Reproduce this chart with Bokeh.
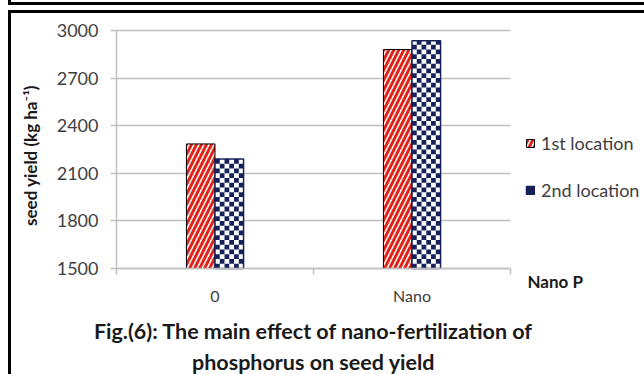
import math
from bokeh.plotting import figure
from bokeh.models import FixedTicker, Legend, LegendItem, Label
from bokeh.embed import file_html
from bokeh.resources import INLINE

# ---- data -------------------------------------------------------------
categories = ["0", "Nano"]
series_names = ["1st location", "2nd location"]
loc1_yield = [2285, 2880]
loc2_yield = [2190, 2935]
y_ticks = [1500, 1800, 2100, 2400, 2700, 3000]
x_title = "Nano P"
y_title = "seed yield (kg ha\u207b\u00b9)"
caption = ["Fig.(6): The main effect of nano-fertilization of",
           "phosphorus on seed yield"]

# ---- styling ----------------------------------------------------------
RED = "#e2231a"
NAVY = "#16215a"
GRID = "#bfbfbf"
TEXT = "#404040"
DARK = "#1a1a1a"
FONT = "Lato"

y_min, y_max = y_ticks[0], y_ticks[-1]
n = len(categories)
bar_w = 0.145
cell_cols = 6          # checker squares across one bar
cell_h = 30            # checker square height in data units

# The plotting frame fills the whole canvas; both axes sit at fixed
# locations and are bounded, so titles, legend and caption are placed in
# data coordinates around the bar area.
line = "linear-gradient(#000,#000)"
page_lines = ", ".join([
    f"{line} 8px 2px / 100% 3px no-repeat",
    f"{line} 8px 0px / 3px 5px no-repeat",
    f"{line} 8px 10px / 100% 3px no-repeat",
    f"{line} 8px 10px / 3px 100% no-repeat",
    "#ffffff",
])

p = figure(width=644, height=374, x_range=(-0.5888, 2.6802),
           y_range=(831.9, 3189.1),
           output_backend="svg", toolbar_location=None,
           min_border=0, styles={"background": page_lines})
p.outline_line_color = None
p.background_fill_color = None
p.border_fill_color = None

x1 = [i + 0.5 - bar_w / 2 for i in range(n)]
x2 = [i + 0.5 + bar_w / 2 for i in range(n)]

r1 = p.vbar(x=x1, top=loc1_yield, bottom=y_min, width=bar_w,
            fill_color="white", line_color="black", line_width=1,
            hatch_pattern="right_diagonal_line", hatch_color=RED,
            hatch_weight=3, hatch_scale=10)

# checkerboard fill for the second series, built from each bar's height
left, right, bottom, top = [], [], [], []
cw = bar_w / cell_cols
for xc, v in zip(x2, loc2_yield):
    rows = math.ceil((v - y_min) / cell_h)
    for r in range(rows):
        for c in range(cell_cols):
            if (r + c) % 2 == 0:
                left.append(xc - bar_w / 2 + c * cw)
                right.append(xc - bar_w / 2 + (c + 1) * cw)
                bottom.append(y_min + r * cell_h)
                top.append(min(y_min + (r + 1) * cell_h, v))
r2_bg = p.vbar(x=x2, top=loc2_yield, bottom=y_min, width=bar_w,
               fill_color="white", line_color=None)
r2_cells = p.quad(left=left, right=right, bottom=bottom, top=top,
                  fill_color=NAVY, line_color=None)
r2 = p.vbar(x=x2, top=loc2_yield, bottom=y_min, width=bar_w,
            fill_color=None, line_color=NAVY, line_width=1.5)

# ---- grid -------------------------------------------------------------
p.xgrid.visible = False
ygrid = p.ygrid[0]
ygrid.grid_line_color = GRID
ygrid.grid_line_width = 1.5
if "cross_bounds" in ygrid.properties():
    ygrid.cross_bounds = (0, n)
else:
    ygrid.visible = False
    p.segment(x0=0, x1=n, y0=y_ticks[1:], y1=y_ticks[1:],
              line_color=GRID, line_width=1.5, level="underlay")

# ---- axes -------------------------------------------------------------
p.yaxis.fixed_location = 0
p.yaxis.bounds = (y_min, y_max)
p.yaxis.ticker = FixedTicker(ticks=y_ticks)
p.yaxis.axis_line_color = GRID
p.yaxis.axis_line_width = 1.5
p.yaxis.major_tick_line_color = GRID
p.yaxis.major_tick_line_width = 1.5
p.yaxis.major_tick_out = 6
p.yaxis.major_tick_in = 0
p.yaxis.minor_tick_line_color = None
p.yaxis.major_label_text_font = FONT
p.yaxis.major_label_text_font_size = "18px"
p.yaxis.major_label_text_color = TEXT
p.yaxis.major_label_standoff = 12

centers = [i + 0.5 for i in range(n)]
p.xaxis.fixed_location = y_min
p.xaxis.bounds = (0, n)
p.xaxis.ticker = FixedTicker(ticks=centers, minor_ticks=list(range(n + 1)))
p.xaxis.major_label_overrides = {c: lab for c, lab in zip(centers, categories)}
p.xaxis.axis_line_color = GRID
p.xaxis.axis_line_width = 1.5
p.xaxis.major_tick_out = 0
p.xaxis.major_tick_in = 0
p.xaxis.minor_tick_out = 6
p.xaxis.minor_tick_in = 0
p.xaxis.minor_tick_line_color = GRID
p.xaxis.minor_tick_line_width = 1.5
p.xaxis.major_label_text_font = FONT
p.xaxis.major_label_text_font_size = "16px"
p.xaxis.major_label_text_color = TEXT
p.xaxis.major_label_standoff = 12

# ---- legend -----------------------------------------------------------
legend = Legend(items=[LegendItem(label=series_names[0], renderers=[r1]),
                       LegendItem(label=series_names[1],
                                  renderers=[r2_bg, r2_cells, r2])],
                location=(525, 173), orientation="vertical",
                padding=0, margin=0, border_line_color=None,
                background_fill_alpha=0, glyph_width=10, glyph_height=10,
                label_standoff=6, spacing=25, label_height=20,
                label_text_font=FONT, label_text_font_size="18px",
                label_text_color=TEXT)
p.add_layout(legend)

# ---- text annotations -------------------------------------------------
p.add_layout(Label(x=-0.4365, y=2212, text=y_title, angle=90,
                   angle_units="deg", text_font=FONT,
                   text_font_size="17px", text_font_style="bold",
                   text_color=DARK, text_align="center",
                   text_baseline="middle"))
p.add_layout(Label(x=2.086, y=1418, text=x_title, text_font=FONT,
                   text_font_size="17px", text_font_style="bold",
                   text_color=DARK, text_baseline="middle"))
for txt, yy in zip(caption, [1109, 908]):
    p.add_layout(Label(x=1.0, y=yy, text=txt, text_font=FONT,
                       text_font_size="21.5px", text_font_style="bold",
                       text_color=DARK, text_align="center",
                       text_baseline="middle"))

open("out.html", "w").write(file_html(p, INLINE))
